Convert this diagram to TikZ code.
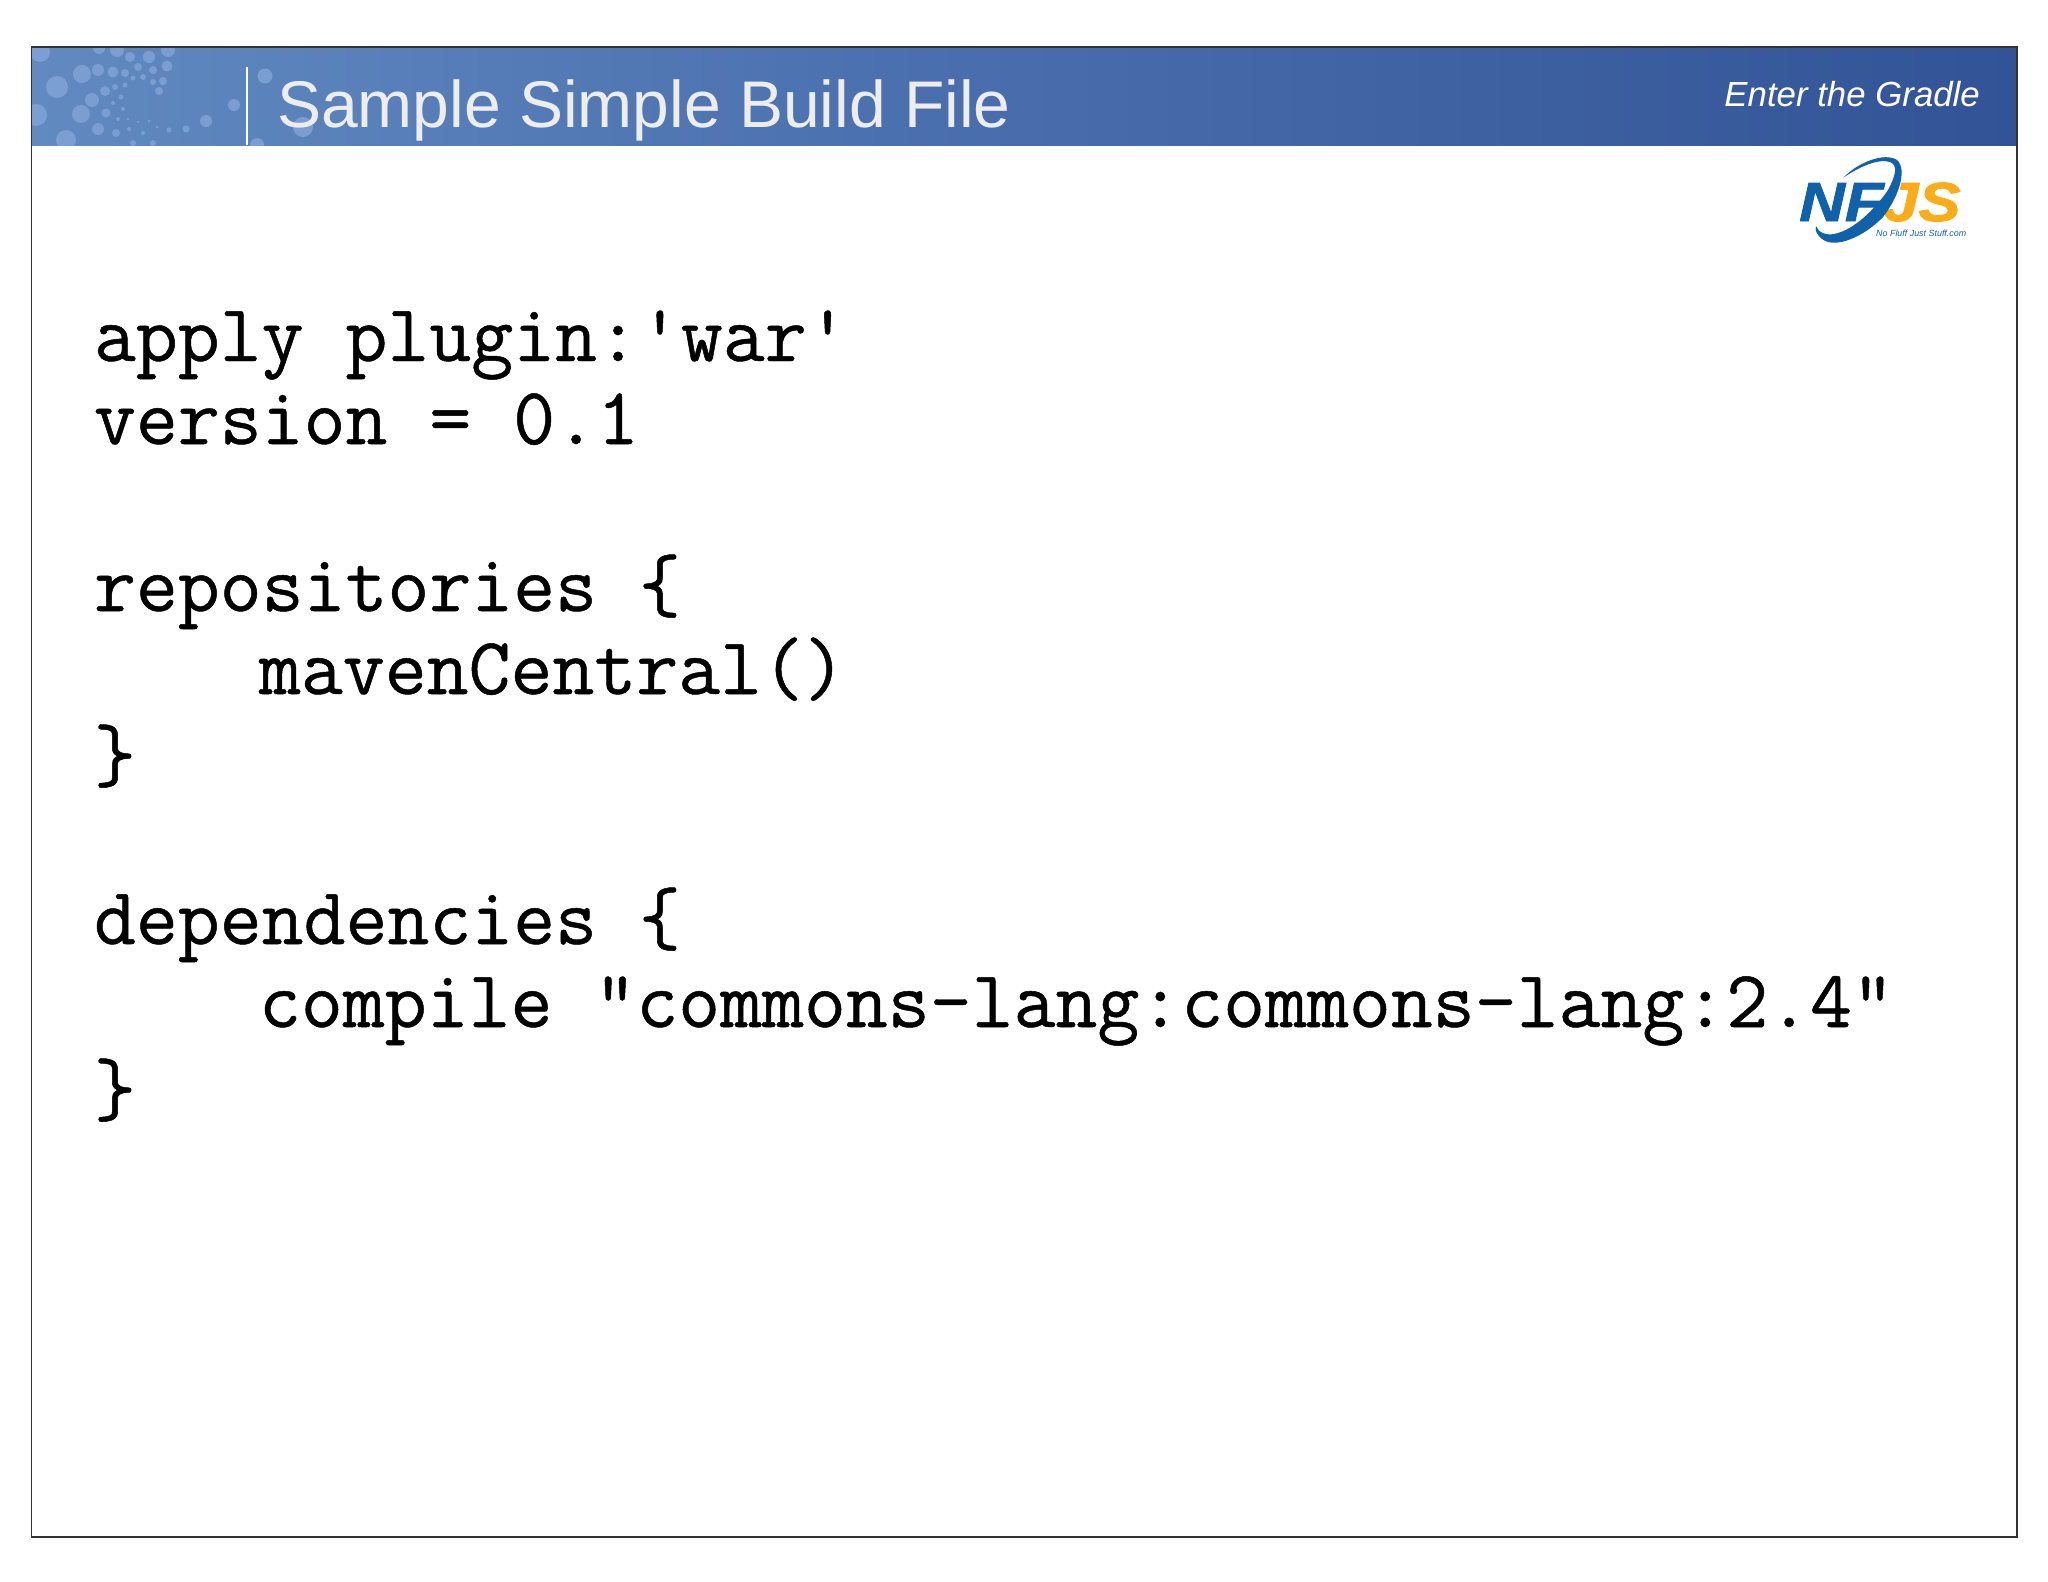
\documentclass[tikz,border=0pt]{standalone}
\usepackage{fontspec}
\setmainfont{Liberation Sans}
\setmonofont[FakeBold=0.6]{Latin Modern Mono}
\newfontfamily\logofont[FakeBold=1.5,BoldFont={Liberation Sans Bold},ItalicFont={Liberation Sans Bold Italic}]{Liberation Sans Bold}
\definecolor{bandL}{RGB}{97,138,192}
\definecolor{bandM}{RGB}{72,108,172}
\definecolor{bandR}{RGB}{50,84,150}
\definecolor{dotc}{RGB}{128,163,214}
\definecolor{nfblue}{RGB}{16,96,170}
\definecolor{jsorange}{RGB}{252,172,24}
\tikzset{
  code/.style={anchor=base west,inner sep=0pt,outer sep=0pt,text=black,font=\ttfamily\fontsize{81.4}{90}\selectfont},
  dotmark/.style={fill=dotc,draw=none,opacity=0.85},
  logotext/.style={anchor=base west,inner sep=0pt,xscale=1.15,font=\logofont\itshape\fontsize{55}{60}\selectfont}
}
\begin{document}
\begin{tikzpicture}[x=1pt,y=-1pt]
\useasboundingbox (0,0) rectangle (2048,1582);
\fill[white] (0,0) rectangle (2048,1582);
\begin{scope}
\clip (31,47) rectangle (2017,145);
\shade[left color=bandL,right color=bandR,middle color=bandM] (31,47) rectangle (2017,145);
\foreach \x/\y/\r in {57/87/11,82/74/9,98/70/6,113/72/5.5,125/73/4,138/67/4,149/57/6,130/57/5,117/50/7,99/48/6,168/50/7,167/66/5.5,153/70/4,143/77/3,133/78/2.5,153/82/3,163/81/4,159/91/4,125/85/2.5,115/87/3,105/91/5,121/97/2.5,113/103/2,92/100/7,123/109/2,106/113/4.5,81/114/9,36/115/11,118/119/2,128/119/1.5,138/122/1.5,149/121/1.5,98/129/6,116/133/4,129/129/2,143/133/2,157/127/1.5,169/130/2.5,186/129/3.5,206/121/6,234/105/6,265/76/7.5,66/140/10,133/143/3,153/143/3,257/145/7,303/127/10,40/52/10}
  \fill[dotmark] (\x,\y) circle[radius=\r];
\end{scope}
\draw[white,line width=1.6] (247,67) -- (247,145);
\draw[black!80,line width=1.3] (31.5,47) rectangle (2017,1537);
\node[anchor=base west,inner sep=0pt,text=white!93!black,font=\fontsize{66}{70}\selectfont] (title) at (277,127) {Sample Simple Build File};
\node[anchor=base east,inner sep=0pt,text=white,font=\itshape\fontsize{34.8}{40}\selectfont] (sub) at (1980,106) {Enter the Gradle};
% logo
\node[logotext,text=jsorange] (js) at (1883,221) {JS};
\node[logotext,text=nfblue] (nf) at (1799,221) {NF};
\fill[nfblue] (1843,178) .. controls (1858,162) and (1885,152) .. (1897,160)
  .. controls (1908,170) and (1898,198) .. (1883,217)
  .. controls (1866,235) and (1836,250) .. (1822,239)
  .. controls (1816,234) and (1815,230) .. (1816,226)
  .. controls (1818,232) and (1826,237) .. (1838,233)
  .. controls (1858,227) and (1878,205) .. (1888,190)
  .. controls (1896,175) and (1898,165) .. (1890,162)
  .. controls (1878,158) and (1857,168) .. (1843,178) -- cycle;
\node[anchor=base west,inner sep=0pt,text=nfblue,font=\itshape\fontsize{8.9}{11}\selectfont] (tag) at (1876,236) {No Fluff Just Stuff.com};
% code
\node[code] (l1) at (94,361) {apply plugin:\char"27 war\char"27};
\node[code] (l2) at (94,444) {version = 0.1};
\node[code] (l3) at (94,611) {repositories \{};
\node[code] (l4) at (259,694) {mavenCentral()};
\node[code] (l5) at (94,781) {\}};
\node[code] (l6) at (94,944) {dependencies \{};
\node[code] (l7) at (259,1027) {compile \char"22 commons-lang:commons-lang:2.4\char"22};
\node[code] (l8) at (94,1115) {\}};
\end{tikzpicture}
\end{document}
